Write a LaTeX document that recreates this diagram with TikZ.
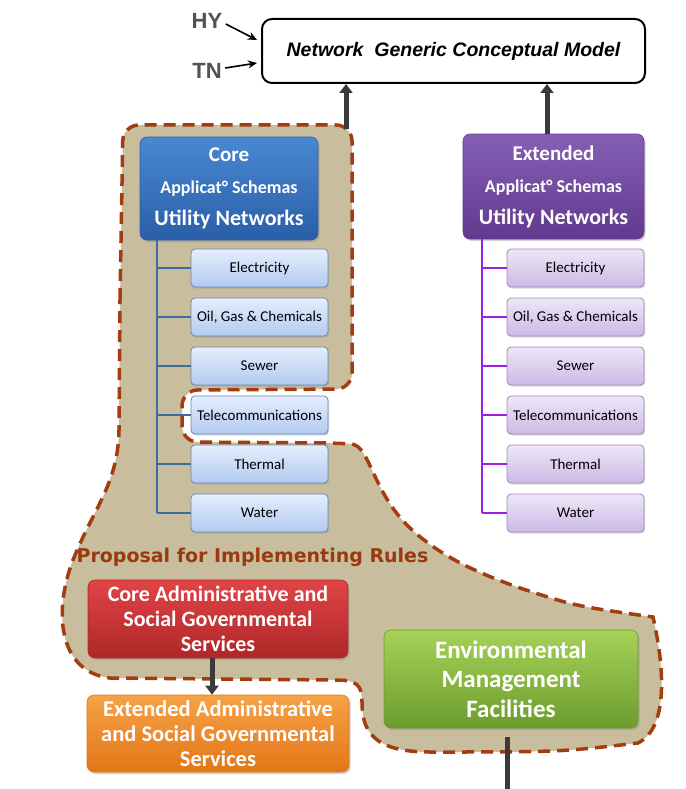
\documentclass[tikz,border=0pt]{standalone}
\usepackage{fontspec}
\setmainfont{Carlito}
\newfontfamily\arialfont{Liberation Sans}
\newfontfamily\heavyfont{DejaVu Sans}
\usetikzlibrary{arrows.meta,shadows}

\definecolor{regionfill}{HTML}{C8BE9E}
\definecolor{regiondash}{HTML}{A33C10}
\definecolor{arrowgray}{HTML}{3A3A3A}
\definecolor{coretree}{HTML}{3E6AA6}
\definecolor{exttree}{HTML}{9B1FE8}
\definecolor{proposaltxt}{HTML}{9A3A0E}
\definecolor{coretop}{HTML}{4A88D2}
\definecolor{corebot}{HTML}{2A5EA8}
\definecolor{exttop}{HTML}{8460B4}
\definecolor{extbot}{HTML}{62398E}
\definecolor{leafbtop}{HTML}{E4EEFD}
\definecolor{leafbbot}{HTML}{B2CAF0}
\definecolor{leafptop}{HTML}{EEE6F8}
\definecolor{leafpbot}{HTML}{CCBAE5}
\definecolor{redtop}{HTML}{E04446}
\definecolor{redbot}{HTML}{B02729}
\definecolor{orgtop}{HTML}{F6A246}
\definecolor{orgbot}{HTML}{E27618}
\definecolor{grntop}{HTML}{A6D257}
\definecolor{grnbot}{HTML}{6C9C2E}

\tikzset{
  bigbox/.style={rounded corners=7pt, draw=#1, line width=0.6pt,
    text=white, align=center, font=\bfseries,
    drop shadow={opacity=0.35, shadow xshift=1.5pt, shadow yshift=-2pt}},
  leafbox/.style={rounded corners=4pt, line width=0.8pt,
    minimum width=137pt, minimum height=38pt, inner sep=1pt,
    font=\fontsize{15}{17}\selectfont,
    drop shadow={opacity=0.3, shadow xshift=1pt, shadow yshift=-1.5pt}},
  leafcore/.style={leafbox, draw=coretree!80, top color=leafbtop, bottom color=leafbbot},
  leafext/.style={leafbox, draw=extbot!60, top color=leafptop, bottom color=leafpbot},
  uparrow/.style={arrowgray, line width=5pt, -{Triangle[width=13pt,length=9pt]}},
  thinarrow/.style={black, line width=1.6pt, -{Stealth[length=9pt,width=8pt]}},
}

\begin{document}
\begin{tikzpicture}[x=1pt, y=-1pt]
  \useasboundingbox (0,0) rectangle (685,789);

  %% ── Zone proposée (fond beige, contour en tirets) ────────────────
  \path[fill=regionfill, draw=regiondash, line width=3.5pt,
        dash pattern=on 12pt off 7pt]
    (120,300) [rounded corners=16pt] -- (123,125) -- (352,125) -- (352,389)
    -- (182,390) -- (182,442) -- (335,443) [sharp corners]
    .. controls (370,445) and (372,492) .. (410,528)
    .. controls (440,556) and (475,572) .. (520,588)
    .. controls (575,606) .. (653,617)
    .. controls (665,670) and (668,728) .. (638,743)
    .. controls (560,752) .. (430,752)
    .. controls (372,752) and (362,730) .. (362,702)
    .. controls (362,684) and (356,680) .. (335,680)
    -- (110,678)
    .. controls (58,672) and (52,610) .. (75,555)
    .. controls (96,505) and (118,482) .. (119,430)
    -- cycle;

  %% ── Modèle conceptuel générique ──────────────────────────────────
  \node[draw, line width=2pt, rounded corners=10pt, fill=white,
        minimum width=383pt, minimum height=64pt,
        font=\arialfont\bfseries\itshape\fontsize{19.5}{22}\selectfont]
    (model) at (453.5,51) {Network \ Generic Conceptual Model};
  \node[text=black!68, font=\arialfont\bfseries\fontsize{22}{24}\selectfont]
    (hy) at (207,21) {HY};
  \node[text=black!68, font=\arialfont\bfseries\fontsize{22}{24}\selectfont]
    (tn) at (207,71) {TN};
  \draw[thinarrow] ([yshift=-3pt]hy.east) -- ([xshift=-4pt,yshift=11pt]model.west);
  \draw[thinarrow] ([yshift=3pt]tn.east) -- ([xshift=-4pt,yshift=-12pt]model.west);

  %% ── Schémas d'application : cœur ─────────────────────────────────
  \node[bigbox=corebot, top color=coretop, bottom color=corebot,
        minimum width=178pt, minimum height=103pt,
        font=\bfseries\fontsize{22}{32}\selectfont]
    (core) at (229,188.5)
    {{\fontsize{21}{32}\selectfont Core}\\{\fontsize{18}{32}\selectfont Applicat° Schemas}\\Utility Networks};
  \foreach \lbl [count=\i] in {Electricity, {Oil, Gas \& Chemicals}, Sewer,
                               Telecommunications, Thermal, Water} {
    \node[leafcore] (c\i) at (259.5,219+49*\i) {\lbl};
    \draw[coretree, line width=2.5pt] (157,0 |- c\i.west) -- (c\i.west);
  }
  \draw[coretree, line width=2.5pt] (157,0 |- core.south) -- (157,0 |- c6.west);

  %% ── Schémas d'application : étendus ──────────────────────────────
  \node[bigbox=extbot, top color=exttop, bottom color=extbot,
        minimum width=181pt, minimum height=105pt,
        font=\bfseries\fontsize{22}{32}\selectfont]
    (ext) at (553.5,186.5)
    {{\fontsize{21}{32}\selectfont Extended}\\{\fontsize{18}{32}\selectfont Applicat° Schemas}\\Utility Networks};
  \foreach \lbl [count=\i] in {Electricity, {Oil, Gas \& Chemicals}, Sewer,
                               Telecommunications, Thermal, Water} {
    \node[leafext] (x\i) at (575.5,219+49*\i) {\lbl};
    \draw[exttree, line width=2.5pt] (482,0 |- x\i.west) -- (x\i.west);
  }
  \draw[exttree, line width=2.5pt] (482,0 |- ext.south) -- (482,0 |- x6.west);

  %% ── Flèches vers le modèle ───────────────────────────────────────
  \coordinate (coreup) at (346,129);
  \coordinate (extup) at (547,134);
  \draw[uparrow] (coreup) -- (coreup |- model.south);
  \draw[uparrow] (extup) -- (extup |- model.south);

  %% ── Règles de mise en œuvre ──────────────────────────────────────
  \node[text=proposaltxt, font=\heavyfont\bfseries\fontsize{19}{20}\selectfont]
    (proposal) at (252.5,557) {Proposal for Implementing Rules};
  \node[bigbox=redbot, top color=redtop, bottom color=redbot,
        minimum width=260pt, minimum height=78pt,
        font=\bfseries\fontsize{22}{25}\selectfont]
    (admin) at (218,619) {Core Administrative and\\Social Governmental\\Services};
  \node[bigbox=orgbot, top color=orgtop, bottom color=orgbot,
        minimum width=262pt, minimum height=77pt,
        font=\bfseries\fontsize{22.5}{25}\selectfont]
    (extadmin) at (218,733.5) {Extended Administrative\\and Social Governmental\\Services};
  \draw[uparrow] ([xshift=-6pt]admin.south) -- ([xshift=-6pt]extadmin.north);
  \node[bigbox=grnbot, top color=grntop, bottom color=grnbot,
        minimum width=254pt, minimum height=98pt,
        font=\bfseries\fontsize{25}{29.5}\selectfont]
    (envir) at (511,679) {Environmental\\Management\\Facilities};
  \coordinate (envdown) at (507,789);
  \draw[arrowgray, line width=5pt] ([yshift=-9pt]envdown |- envir.south) -- (envdown);

\end{tikzpicture}
\end{document}
